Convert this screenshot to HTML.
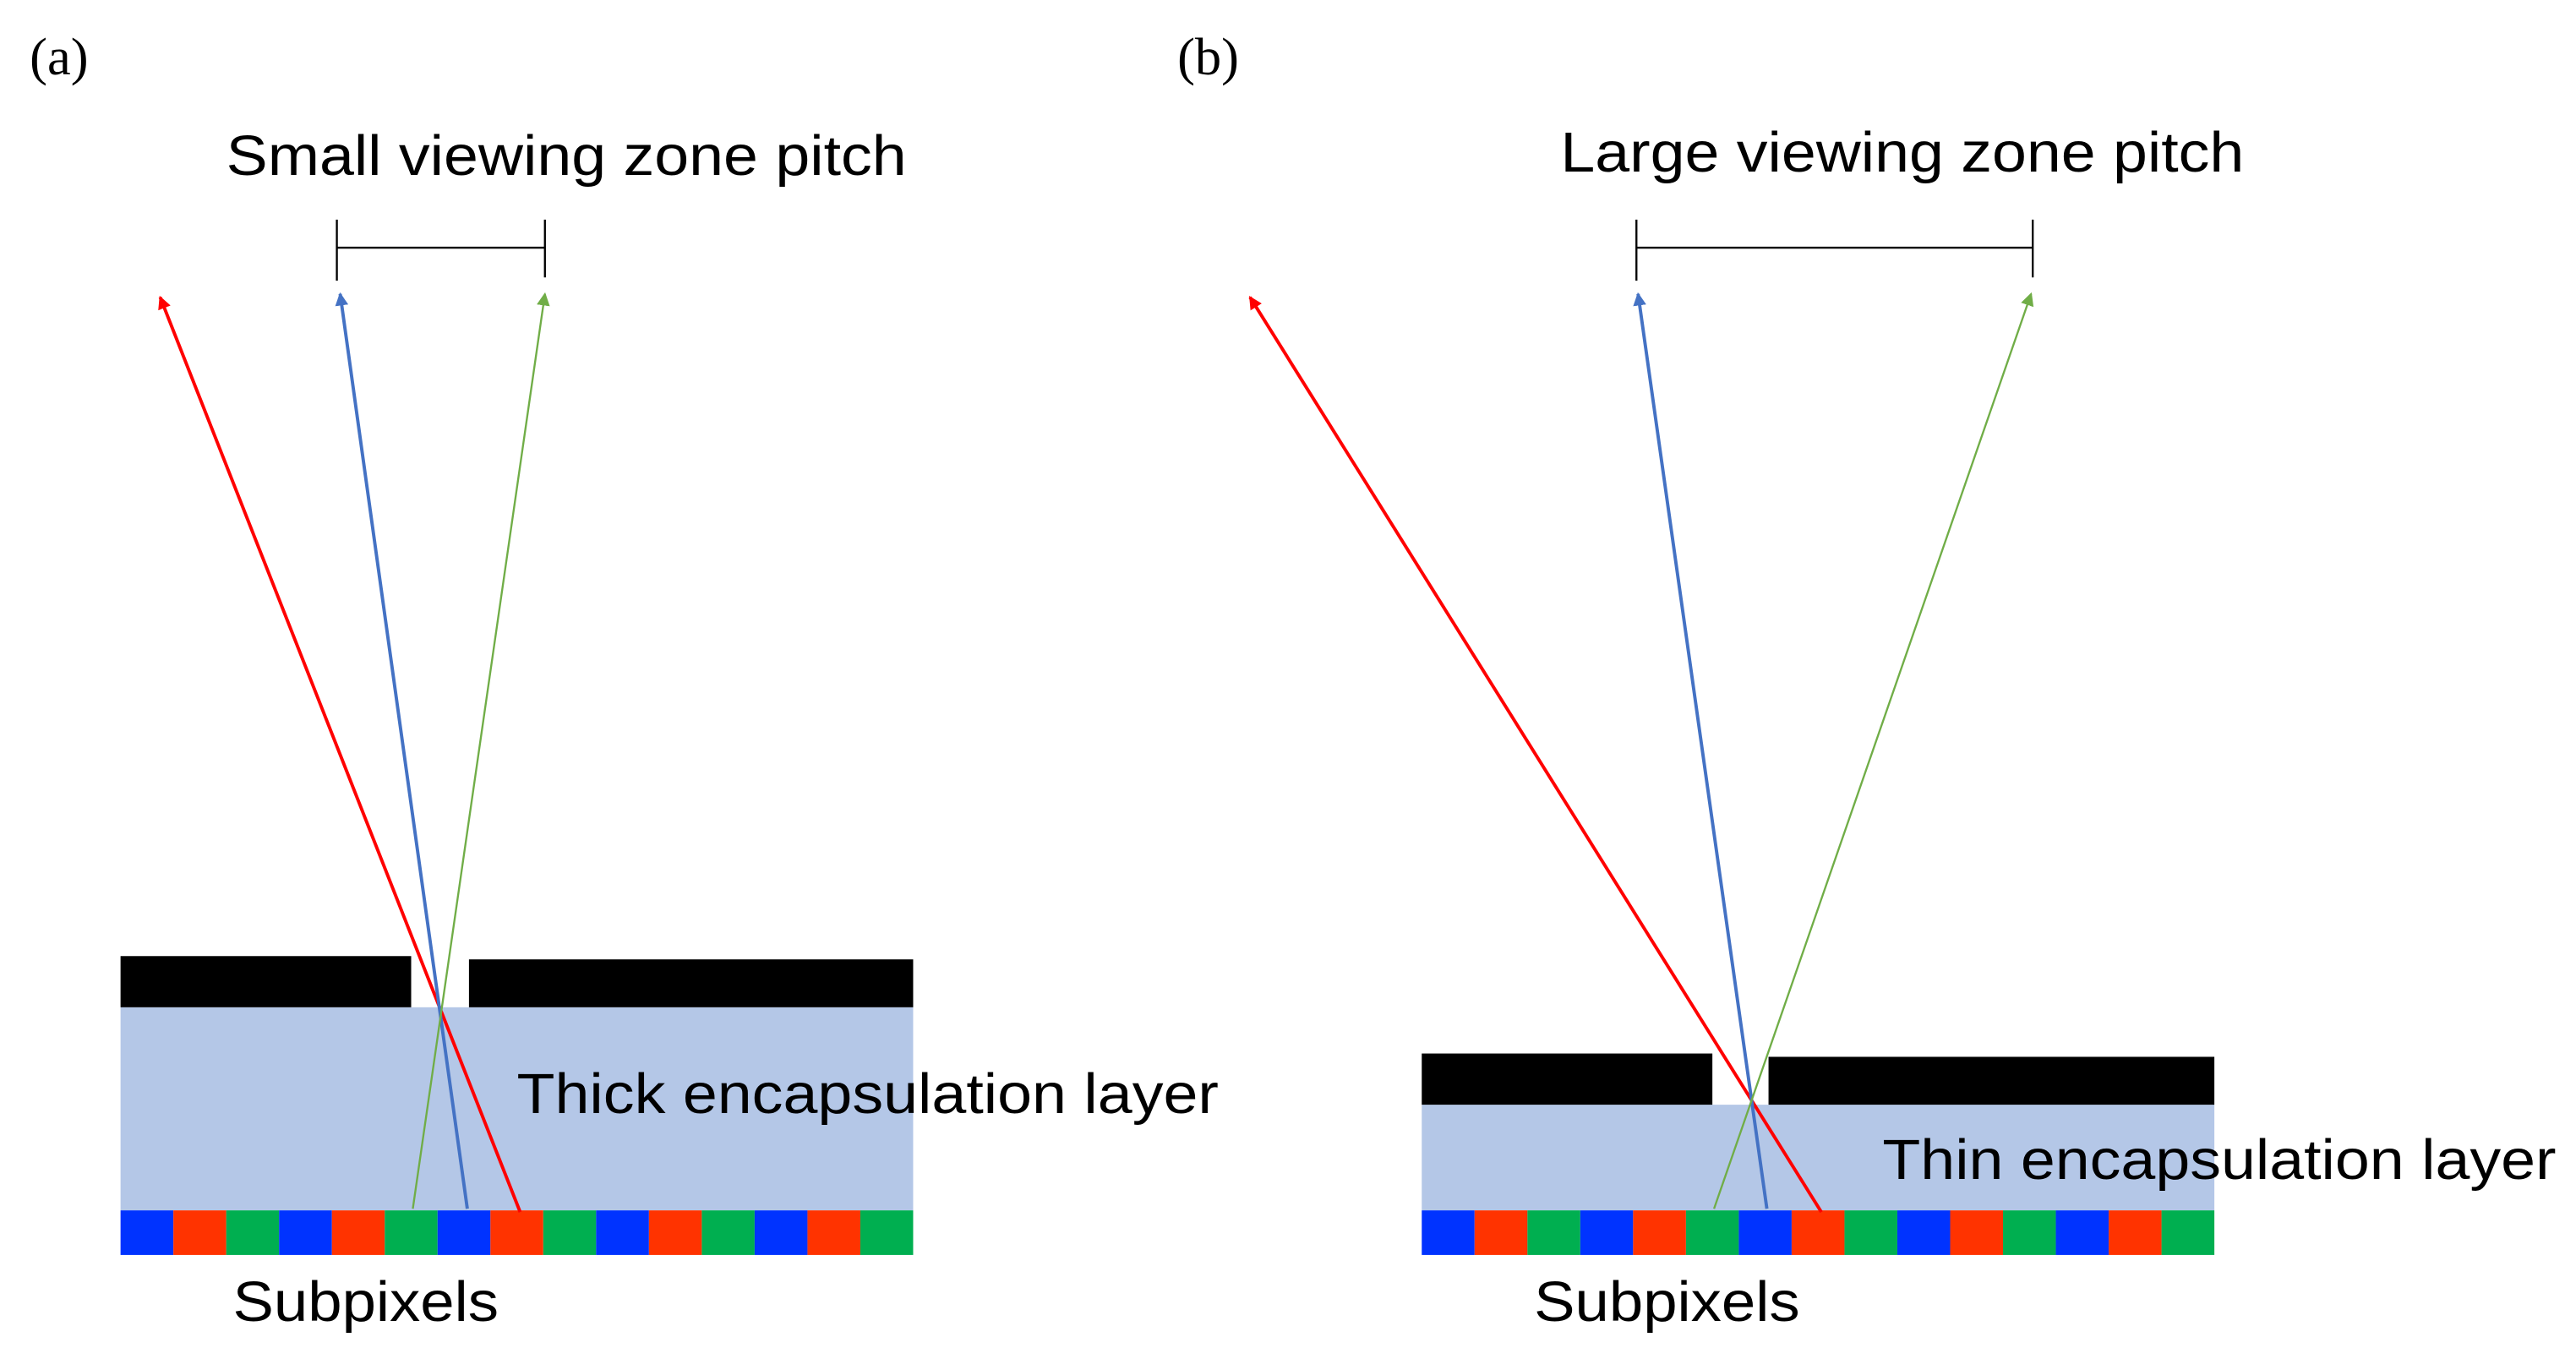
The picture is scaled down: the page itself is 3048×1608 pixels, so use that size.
<!DOCTYPE html>
<html><head><meta charset="utf-8"><style>html,body{margin:0;padding:0;background:#fff}svg{display:block}</style></head>
<body>
<svg width="3048" height="1608" viewBox="0 0 1560 823" preserveAspectRatio="none" xmlns="http://www.w3.org/2000/svg">
<defs>
<marker id="mr" markerWidth="8" markerHeight="8" refX="7" refY="4" orient="auto" markerUnits="userSpaceOnUse"><path d="M0,0 L8,4 L0,8 z" fill="#FF0000"/></marker>
<marker id="mb" markerWidth="8" markerHeight="8" refX="7" refY="4" orient="auto" markerUnits="userSpaceOnUse"><path d="M0,0 L8,4 L0,8 z" fill="#4472C4"/></marker>
<marker id="mg" markerWidth="8" markerHeight="8" refX="7" refY="4" orient="auto" markerUnits="userSpaceOnUse"><path d="M0,0 L8,4 L0,8 z" fill="#70AD47"/></marker>
<g id="sp">
<rect x="0" width="32" height="27" fill="#0033FF"/><rect x="32" width="32" height="27" fill="#FF3300"/><rect x="64" width="32" height="27" fill="#00AF50"/>
<rect x="96" width="32" height="27" fill="#0033FF"/><rect x="128" width="32" height="27" fill="#FF3300"/><rect x="160" width="32" height="27" fill="#00AF50"/>
<rect x="192" width="32" height="27" fill="#0033FF"/><rect x="224" width="32" height="27" fill="#FF3300"/><rect x="256" width="32" height="27" fill="#00AF50"/>
<rect x="288" width="32" height="27" fill="#0033FF"/><rect x="320" width="32" height="27" fill="#FF3300"/><rect x="352" width="32" height="27" fill="#00AF50"/>
<rect x="384" width="32" height="27" fill="#0033FF"/><rect x="416" width="32" height="27" fill="#FF3300"/><rect x="448" width="32" height="27" fill="#00AF50"/>
</g>
</defs>
<g font-family="Liberation Sans, Arial, sans-serif" fill="#000">
<text x="18" y="45" font-family="Liberation Serif, serif" font-size="32">(a)</text>
<text x="713" y="45" font-family="Liberation Serif, serif" font-size="32">(b)</text>
<text x="137" y="106" font-size="34" textLength="412" lengthAdjust="spacingAndGlyphs">Small viewing zone pitch</text>
<text x="945" y="104" font-size="34" textLength="414" lengthAdjust="spacingAndGlyphs">Large viewing zone pitch</text>
</g>
<g stroke="#000" stroke-width="1.2">
<line x1="204" y1="133" x2="204" y2="170"/><line x1="330" y1="133" x2="330" y2="168"/><line x1="204" y1="150" x2="330" y2="150"/>
<line x1="991" y1="133" x2="991" y2="170"/><line x1="1231" y1="133" x2="1231" y2="168"/><line x1="991" y1="150" x2="1231" y2="150"/>
</g>
<rect x="73" y="610" width="480" height="123" fill="#B4C7E7"/>
<rect x="73" y="579" width="176" height="31" fill="#000"/>
<rect x="284" y="581" width="269" height="29" fill="#000"/>
<use href="#sp" x="73" y="733"/>
<rect x="861" y="669" width="480" height="64" fill="#B4C7E7"/>
<rect x="861" y="638" width="176" height="31" fill="#000"/>
<rect x="1071" y="640" width="270" height="29" fill="#000"/>
<use href="#sp" x="861" y="733"/>
<g fill="none">
<line x1="315" y1="734" x2="97" y2="180" stroke="#FF0000" stroke-width="2" marker-end="url(#mr)"/>
<line x1="283" y1="732" x2="206" y2="178" stroke="#4472C4" stroke-width="2" marker-end="url(#mb)"/>
<line x1="250" y1="732" x2="330" y2="178" stroke="#70AD47" stroke-width="1.2" marker-end="url(#mg)"/>
<line x1="1103" y1="734" x2="757" y2="180" stroke="#FF0000" stroke-width="2" marker-end="url(#mr)"/>
<line x1="1070" y1="732" x2="992" y2="178" stroke="#4472C4" stroke-width="2" marker-end="url(#mb)"/>
<line x1="1038" y1="732" x2="1230" y2="178" stroke="#70AD47" stroke-width="1.2" marker-end="url(#mg)"/>
</g>
<g font-family="Liberation Sans, Arial, sans-serif" fill="#000" font-size="34">
<text x="313" y="674" textLength="425" lengthAdjust="spacingAndGlyphs">Thick encapsulation layer</text>
<text x="1140" y="714" textLength="408" lengthAdjust="spacingAndGlyphs">Thin encapsulation layer</text>
<text x="141" y="800" textLength="161" lengthAdjust="spacingAndGlyphs">Subpixels</text>
<text x="929" y="800" textLength="161" lengthAdjust="spacingAndGlyphs">Subpixels</text>
</g>
</svg>
</body></html>
